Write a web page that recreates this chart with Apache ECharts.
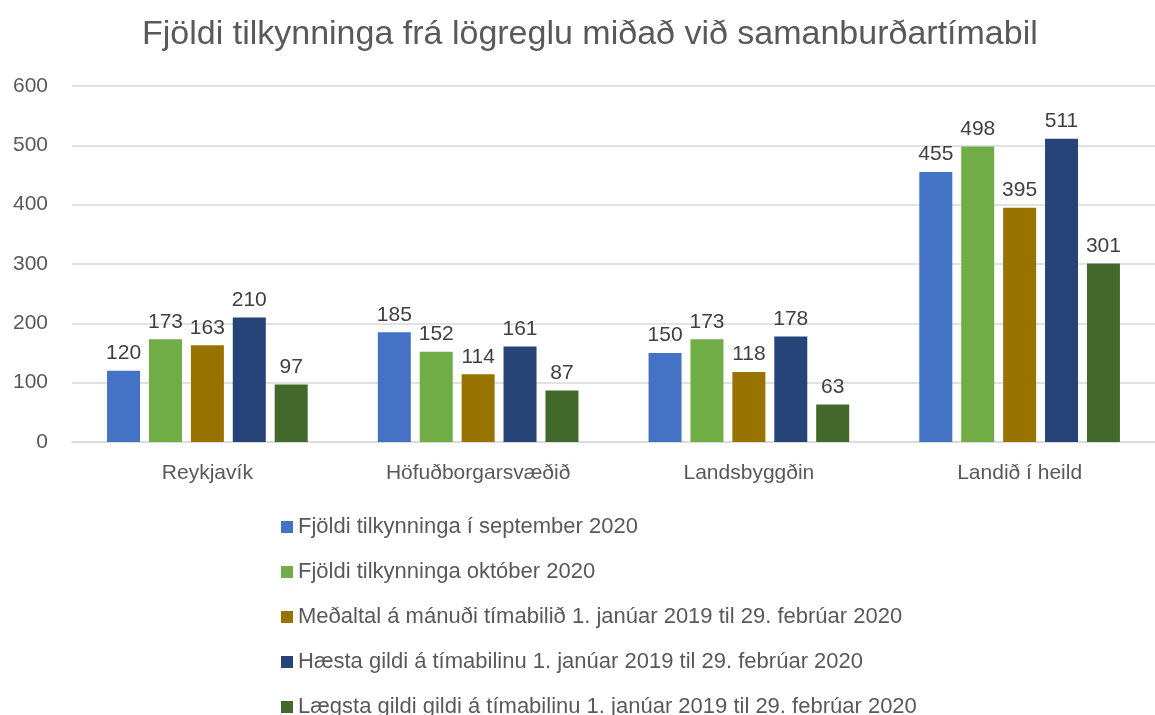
<!DOCTYPE html>
<html>
<head>
<meta charset="utf-8">
<script src="https://cdn.jsdelivr.net/npm/echarts@6/dist/echarts.min.js"></script>
<style>
  html, body { margin: 0; padding: 0; background: #fff; }
  #chart { width: 1155px; height: 715px; }
</style>
</head>
<body>
<div id="chart"></div>
<script>
// flokkar og gildi
const categories = ["Reykjavík", "Höfuðborgarsvæðið", "Landsbyggðin", "Landið í heild"];
const seriesNames = [
  "Fjöldi tilkynninga í september 2020",
  "Fjöldi tilkynninga október 2020",
  "Meðaltal á mánuði tímabilið 1. janúar 2019 til 29. febrúar 2020",
  "Hæsta gildi á tímabilinu 1. janúar 2019 til 29. febrúar 2020",
  "Lægsta gildi gildi á tímabilinu 1. janúar 2019 til 29. febrúar 2020"
];
const sept2020 = [120, 185, 150, 455];
const okt2020 = [173, 152, 173, 498];
const medaltal = [163, 114, 118, 395];
const haesta = [210, 161, 178, 511];
const laegsta = [97, 87, 63, 301];
const colors = ["#4472C4", "#70AD47", "#997300", "#264478", "#43682B"];

const values = [sept2020, okt2020, medaltal, haesta, laegsta];
const font = "'Liberation Sans', 'DejaVu Sans', sans-serif";

const chart = echarts.init(document.getElementById("chart"));
chart.setOption({
  animation: false,
  textStyle: { fontFamily: font },
  title: {
    text: "Fjöldi tilkynninga frá lögreglu miðað við samanburðartímabil",
    left: 137,
    top: 13,
    textStyle: { fontSize: 34, fontWeight: "normal", color: "#595959", fontFamily: font }
  },
  legend: {
    orient: "vertical",
    left: 276,
    top: 510,
    height: 260,
    itemWidth: 12,
    itemHeight: 12,
    itemGap: 21,
    icon: "rect",
    textStyle: { fontSize: 22, color: "#595959", lineHeight: 24, fontFamily: font },
    data: seriesNames
  },
  grid: { left: 72, right: -15, top: 86, bottom: 273, containLabel: false },
  xAxis: {
    type: "category",
    data: categories,
    axisTick: { show: false },
    axisLine: { lineStyle: { color: "#D9D9D9", width: 1.5 } },
    axisLabel: { fontSize: 21, color: "#595959", margin: 21 }
  },
  yAxis: {
    type: "value",
    min: 0,
    max: 600,
    interval: 100,
    axisLine: { show: false },
    axisTick: { show: false },
    axisLabel: { fontSize: 21, color: "#595959", margin: 24 },
    splitLine: { lineStyle: { color: "#D9D9D9", width: 1.5 } }
  },
  series: seriesNames.map((name, i) => ({
    name,
    type: "bar",
    data: values[i],
    barWidth: 33,
    barGap: "27%",
    barCategoryGap: "27%",
    itemStyle: { color: colors[i] },
    label: {
      show: true,
      position: "top",
      distance: 7,
      fontSize: 21,
      color: "#404040"
    }
  }))
});
</script>
</body>
</html>
